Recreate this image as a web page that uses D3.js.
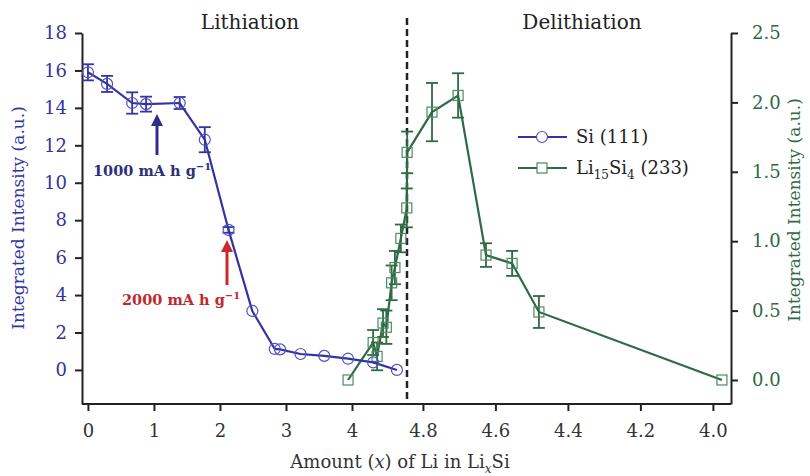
<!DOCTYPE html>
<html>
<head>
<meta charset="utf-8">
<script src="https://cdn.jsdelivr.net/npm/d3@7"></script>
<style>
  body { margin: 0; background: #fff; }
  text { font-family: "DejaVu Serif", serif; }
</style>
</head>
<body>
<div id="chart"></div>
<script>
// Si (111) during lithiation, left axis
var siX = [0, 0.29, 0.67, 0.88, 1.39, 1.77, 2.13, 2.49, 2.83, 2.91, 3.22, 3.58, 3.94, 4.32, 4.68];
var siY = [15.9, 15.28, 14.26, 14.2, 14.26, 12.3, 7.48, 3.15, 1.12, 1.1, 0.85, 0.75, 0.6, 0.4, 0.0];
var siErr = [0.43, 0.43, 0.57, 0.4, 0.32, 0.67, 0.15, 0, 0, 0, 0, 0, 0, 0, 0];

// Li15Si4 (233), right axis: lithiation part then delithiation part
var lithX = [3.94, 4.32, 4.38, 4.47, 4.52, 4.60, 4.65, 4.74, 4.83, 4.835];
var lithV = [0.0, 0.27, 0.17, 0.41, 0.38, 0.70, 0.81, 1.02, 1.24, 1.64];
var lithErr = [0, 0.09, 0.1, 0.1, 0.12, 0.125, 0.12, 0.1, 0.14, 0.15];
var delX = [4.775, 4.703, 4.626, 4.554, 4.48, 3.975];
var delV = [1.93, 2.05, 0.90, 0.84, 0.49, 0.0];
var delErr = [0.21, 0.16, 0.085, 0.09, 0.115, 0];

var lithTicks = [0, 1, 2, 3, 4];
var delTicks = [4.8, 4.6, 4.4, 4.2, 4.0];
var leftTicks = [0, 2, 4, 6, 8, 10, 12, 14, 16, 18];
var rightTicks = [0, 0.5, 1.0, 1.5, 2.0, 2.5];

var blue = "#3434a0", green = "#2e6a45", greenMark = "#4d8a62";

var W = 810, H = 476;
var plotL = 82, plotR = 731, plotT = 33, plotB = 404, breakX = 407;

var xLith = d3.scaleLinear().domain([-0.09, 4.833]).range([plotL, breakX]);
var xDel = d3.scaleLinear().domain([4.844, 3.95]).range([breakX, plotR]);
var yLeft = d3.scaleLinear().domain([-1.82, 18]).range([plotB, plotT]);
var yRight = d3.scaleLinear().domain([-0.173, 2.5]).range([plotB, plotT]);

var svg = d3.select("#chart").append("svg")
    .attr("width", W)
    .attr("height", H);

// bottom axes (two scales joined at the break)
var gx1 = svg.append("g").attr("transform", "translate(0," + plotB + ")")
    .call(d3.axisBottom(xLith).tickValues(lithTicks).tickSize(7).tickSizeOuter(0).tickFormat(d3.format("d")));
var gx2 = svg.append("g").attr("transform", "translate(0," + plotB + ")")
    .call(d3.axisBottom(xDel).tickValues(delTicks).tickSize(7).tickSizeOuter(0).tickFormat(d3.format(".1f")));
[gx1, gx2].forEach(function (g) {
    g.select(".domain").remove();
    g.selectAll(".tick line").attr("stroke", "#222").attr("stroke-width", 2);
    g.selectAll(".tick text").attr("fill", "#333").attr("font-size", 18)
        .attr("font-family", "DejaVu Serif").attr("dy", "1.25em");
});
svg.append("line")
    .attr("x1", plotL).attr("x2", plotR).attr("y1", plotB).attr("y2", plotB)
    .attr("stroke", "#222").attr("stroke-width", 2);

// left axis
var gy1 = svg.append("g").attr("transform", "translate(" + plotL + ",0)")
    .call(d3.axisLeft(yLeft).tickValues(leftTicks).tickSize(7).tickSizeOuter(0).tickPadding(8));
gy1.select(".domain").attr("stroke", "#222").attr("stroke-width", 2);
gy1.selectAll(".tick line").attr("stroke", "#222").attr("stroke-width", 2);
gy1.selectAll(".tick text").attr("fill", blue).attr("font-size", 18).attr("font-family", "DejaVu Serif");

// right axis
var gy2 = svg.append("g").attr("transform", "translate(" + plotR + ",0)")
    .call(d3.axisRight(yRight).tickValues(rightTicks).tickSize(7).tickSizeOuter(0).tickPadding(14).tickFormat(d3.format(".1f")));
gy2.select(".domain").attr("stroke", "#222").attr("stroke-width", 2);
gy2.selectAll(".tick line").attr("stroke", "#222").attr("stroke-width", 2);
gy2.selectAll(".tick text").attr("fill", green).attr("font-size", 18).attr("font-family", "DejaVu Serif");

// dashed break line
svg.append("line")
    .attr("x1", breakX).attr("x2", breakX).attr("y1", 18).attr("y2", plotB)
    .attr("stroke", "#222").attr("stroke-width", 2.5).attr("stroke-dasharray", "7,4");

// section titles
svg.append("text").attr("x", 250).attr("y", 29).attr("text-anchor", "middle")
    .attr("font-size", 20).attr("fill", "#222").text("Lithiation");
svg.append("text").attr("x", 582).attr("y", 29).attr("text-anchor", "middle")
    .attr("font-size", 20).attr("fill", "#222").text("Delithiation");

// axis titles
svg.append("text").attr("transform", "translate(24,218) rotate(-90)")
    .attr("text-anchor", "middle").attr("font-size", 17).attr("fill", blue)
    .text("Integrated Intensity (a.u.)");
svg.append("text").attr("transform", "translate(800,210) rotate(-90)")
    .attr("text-anchor", "middle").attr("font-size", 17).attr("fill", green)
    .text("Integrated Intensity (a.u.)");

var xt = svg.append("text").attr("x", 400).attr("y", 468).attr("text-anchor", "middle")
    .attr("font-size", 18).attr("fill", "#333");
xt.append("tspan").text("Amount (");
xt.append("tspan").attr("font-style", "italic").text("x");
xt.append("tspan").text(") of Li in Li");
xt.append("tspan").attr("font-style", "italic").attr("font-size", 12).attr("dy", 5).text("x");
xt.append("tspan").attr("dy", -5).text("Si");

// Si series
var siData = siX.map(function (x, i) {
    return { px: xLith(x), py: yLeft(siY[i]), lo: yLeft(siY[i] - siErr[i]), hi: yLeft(siY[i] + siErr[i]), err: siErr[i] };
});
var greenData = lithX.map(function (x, i) {
    return { px: xLith(x), py: yRight(lithV[i]), lo: yRight(lithV[i] - lithErr[i]), hi: yRight(lithV[i] + lithErr[i]), err: lithErr[i] };
}).concat(delX.map(function (x, i) {
    return { px: xDel(x), py: yRight(delV[i]), lo: yRight(delV[i] - delErr[i]), hi: yRight(delV[i] + delErr[i]), err: delErr[i] };
}));

var line = d3.line().x(function (d) { return d.px; }).y(function (d) { return d.py; });

function errorBars(data, color) {
    var g = svg.append("g").attr("stroke", color).attr("stroke-width", 1.8);
    var withErr = data.filter(function (d) { return d.err > 0; });
    g.selectAll(".ev").data(withErr).enter().append("line")
        .attr("x1", function (d) { return d.px; }).attr("x2", function (d) { return d.px; })
        .attr("y1", function (d) { return d.lo; }).attr("y2", function (d) { return d.hi; });
    ["lo", "hi"].forEach(function (k) {
        g.selectAll(".c" + k).data(withErr).enter().append("line")
            .attr("x1", function (d) { return d.px - 6; }).attr("x2", function (d) { return d.px + 6; })
            .attr("y1", function (d) { return d[k]; }).attr("y2", function (d) { return d[k]; });
    });
}

errorBars(greenData, green);
svg.append("path").datum(greenData).attr("d", line)
    .attr("fill", "none").attr("stroke", green).attr("stroke-width", 2.2);
svg.selectAll(".sq").data(greenData).enter().append("rect")
    .attr("x", function (d) { return d.px - 5; }).attr("y", function (d) { return d.py - 5; })
    .attr("width", 10).attr("height", 10)
    .attr("fill", "none").attr("stroke", greenMark).attr("stroke-width", 1.2);

errorBars(siData, blue);
svg.append("path").datum(siData).attr("d", line)
    .attr("fill", "none").attr("stroke", blue).attr("stroke-width", 2.2);
svg.selectAll(".ci").data(siData).enter().append("circle")
    .attr("cx", function (d) { return d.px; }).attr("cy", function (d) { return d.py; })
    .attr("r", 5.5).attr("fill", "none").attr("stroke", "#5050c0").attr("stroke-width", 1.2);

// annotations
function arrow(x, y1, y2, color) {
    svg.append("line").attr("x1", x).attr("x2", x).attr("y1", y1).attr("y2", y2 + 8)
        .attr("stroke", color).attr("stroke-width", 3);
    svg.append("path")
        .attr("d", "M" + (x - 6) + "," + (y2 + 12) + " L" + x + "," + y2 + " L" + (x + 6) + "," + (y2 + 12) + " Z")
        .attr("fill", color);
}
arrow(157, 155, 114, "#2e2e8a");
arrow(227, 285, 240, "#cc2a2a");

function capText(x, y, label, color) {
    var t = svg.append("text").attr("x", x).attr("y", y).attr("font-size", 14.5)
        .attr("font-weight", "bold").attr("fill", color);
    t.append("tspan").text(label);
    t.append("tspan").attr("font-size", 10).attr("dy", -6).text("\u22121");
}
capText(93, 176, "1000 mA h g", "#2e2e7a");
capText(122, 305, "2000 mA h g", "#c0282d");

// legend
var legend = [
    { y: 137, color: blue, mark: "circle" },
    { y: 168, color: green, mark: "rect" }
];
legend.forEach(function (l) {
    svg.append("line").attr("x1", 518).attr("x2", 567).attr("y1", l.y).attr("y2", l.y)
        .attr("stroke", l.color).attr("stroke-width", 2.2);
    if (l.mark === "circle") {
        svg.append("circle").attr("cx", 542).attr("cy", l.y).attr("r", 5.5)
            .attr("fill", "#fff").attr("stroke", "#5050c0").attr("stroke-width", 1.2);
    } else {
        svg.append("rect").attr("x", 537).attr("y", l.y - 5).attr("width", 10).attr("height", 10)
            .attr("fill", "#fff").attr("stroke", greenMark).attr("stroke-width", 1.2);
    }
});
svg.append("text").attr("x", 576).attr("y", 143).attr("font-size", 18).attr("fill", "#222").text("Si (111)");
var lt = svg.append("text").attr("x", 576).attr("y", 174).attr("font-size", 18).attr("fill", "#222");
lt.append("tspan").text("Li");
lt.append("tspan").attr("font-size", 12).attr("dy", 5).text("15");
lt.append("tspan").attr("dy", -5).text("Si");
lt.append("tspan").attr("font-size", 12).attr("dy", 5).text("4");
lt.append("tspan").attr("dy", -5).text(" (233)");
</script>
</body>
</html>
